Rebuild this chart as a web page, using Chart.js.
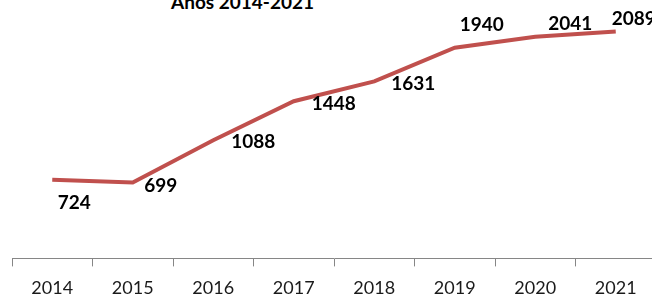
<!DOCTYPE html>
<html lang="es">
<head>
    <meta charset="UTF-8">
    <title>Años 2014-2021</title>
    <script src="https://cdn.jsdelivr.net/npm/chart.js"></script>
    <style>
        html, body { margin: 0; padding: 0; background: #fff; overflow: hidden; }
        .wrap { position: relative; width: 652px; height: 302px; overflow: hidden; }
        .title { position: absolute; left: 171px; top: -10px; font: bold 19px Lato, sans-serif; color: #000; white-space: nowrap; }
        canvas { position: absolute; left: 0; top: 0; }
    </style>
</head>
<body>
<div class="wrap">
    <div class="title">Años 2014-2021</div>
    <canvas id="chart" width="656" height="314"></canvas>
</div>
<script>
// datos del gráfico
const years = ['2014', '2015', '2016', '2017', '2018', '2019', '2020', '2021'];
const totals = [724, 699, 1088, 1448, 1631, 1940, 2041, 2089];
// desplazamiento de cada etiqueta respecto a su punto (x, y)
const labelShift = [[22, 23], [28, 3], [40, 2], [40, 3], [39, 3], [27, -23], [35, -13], [18, -13]];

// etiquetas de datos en negrita
const valueLabels = {
  id: 'valueLabels',
  afterDatasetsDraw(chart) {
    const ctx = chart.ctx;
    const pts = chart.getDatasetMeta(0).data;
    ctx.save();
    ctx.font = 'bold 19px Lato, sans-serif';
    ctx.fillStyle = '#000';
    ctx.textAlign = 'center';
    ctx.textBaseline = 'middle';
    pts.forEach((p, i) => {
      ctx.fillText(String(totals[i]), p.x + labelShift[i][0], p.y + labelShift[i][1]);
    });
    ctx.restore();
  }
};

new Chart(document.getElementById('chart'), {
  type: 'line',
  data: {
    labels: years,
    datasets: [{
      data: totals,
      borderColor: '#C0504D',
      borderWidth: 4,
      pointRadius: 0,
      tension: 0,
      clip: false
    }]
  },
  options: {
    responsive: false,
    animation: false,
    layout: { padding: { left: 12, top: 0, right: 0, bottom: 4 } },
    plugins: { legend: { display: false }, tooltip: { enabled: false }, title: { display: false } },
    scales: {
      x: {
        offset: true,
        grid: { offset: true, drawOnChartArea: false, drawTicks: true, tickLength: 8, color: '#868686' },
        border: { color: '#868686', width: 1 },
        ticks: { color: '#1a1a1a', font: { family: 'Lato', size: 18 }, padding: 11, maxRotation: 0 }
      },
      y: { display: false, min: 0, max: 2380 }
    }
  },
  plugins: [valueLabels]
});
</script>
</body>
</html>
